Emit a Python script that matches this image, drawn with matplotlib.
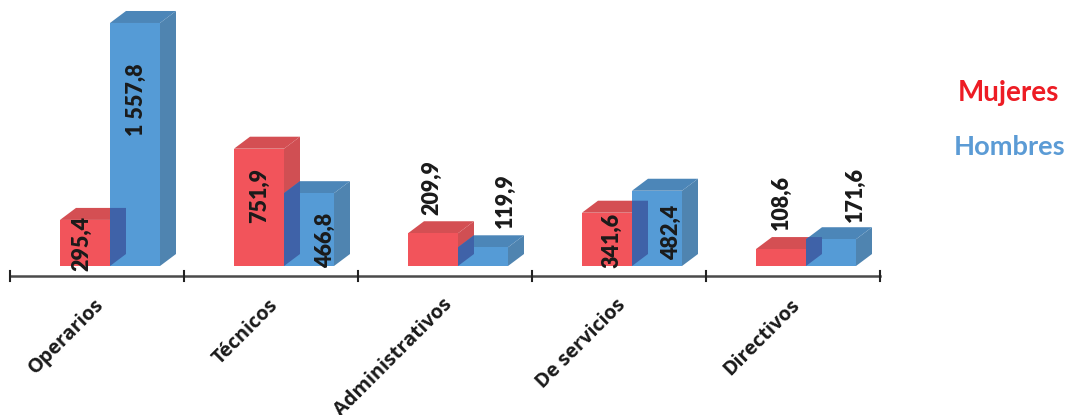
import matplotlib
matplotlib.use('Agg')
import matplotlib.pyplot as plt
from matplotlib.patches import Polygon

plt.rcParams['font.family'] = ['Lato', 'DejaVu Sans']

categories = ['Operarios', 'Técnicos', 'Administrativos', 'De servicios', 'Directivos']
mujeres = [295.4, 751.9, 209.9, 341.6, 108.6]
hombres = [1557.8, 466.8, 119.9, 482.4, 171.6]
mujeres_labels = ['295,4', '751,9', '209,9', '341,6', '108,6']
hombres_labels = ['1 557,8', '466,8', '119,9', '482,4', '171,6']

# Scale of the picture
PX_PER_UNIT = 0.156
PX_PER_CAT = 174
W, H = 1067, 415
BASE_PY = 266
LEFT_PX = 10

# Bar geometry in data units
BAR_W = 50 / PX_PER_CAT
BAR_OFF = 50 / PX_PER_CAT
DX = 16 / PX_PER_CAT
DY = 12 / PX_PER_UNIT
AXIS_Y = -10 / PX_PER_UNIT

RED = '#f2545b'
RED_TOP = '#d44f53'
RED_SIDE = '#d04f53'
BLUE = '#559bd6'
BLUE_TOP = '#4c86b8'
BLUE_SIDE = '#4f84b0'
OVERLAP = '#3f62a8'

# Label centres: x is pixels from the category's left tick, y is pixels from the top
mujeres_label_pos = [(72, 243), (76, 195), (74, 188), (80, 240), (75, 202)]
hombres_label_pos = [(126, 100), (141, 240), (147, 201), (139, 232), (149, 194)]


def outline(x, h):
    return [(x, 0), (x, h), (x + DX, h + DY), (x + BAR_W + DX, h + DY),
            (x + BAR_W + DX, DY), (x + BAR_W, 0)]


def draw_bar(ax, x, h, front, top, side, z):
    ax.add_patch(Polygon([(x, 0), (x, h), (x + BAR_W, h), (x + BAR_W, 0)],
                         color=front, lw=0, zorder=z + 0.2))
    ax.add_patch(Polygon([(x, h), (x + DX, h + DY), (x + BAR_W + DX, h + DY), (x + BAR_W, h)],
                         color=top, lw=0, zorder=z + 0.1))
    ax.add_patch(Polygon([(x + BAR_W, 0), (x + BAR_W, h), (x + BAR_W + DX, h + DY), (x + BAR_W + DX, DY)],
                         color=side, lw=0, zorder=z))


def draw_group(ax, i):
    x_red = i + 50 / PX_PER_CAT
    x_blue = x_red + BAR_OFF
    h_red = mujeres[i]
    h_blue = hombres[i]
    draw_bar(ax, x_red, h_red, RED, RED_TOP, RED_SIDE, 2)
    draw_bar(ax, x_blue, h_blue, BLUE, BLUE_TOP, BLUE_SIDE, 3)

    # part of the red bar seen through the blue one
    clip = Polygon(outline(x_blue, h_blue), transform=ax.transData, lw=0)
    over = Polygon(outline(x_red, h_red), color=OVERLAP, lw=0, zorder=4)
    ax.add_patch(over)
    over.set_clip_path(clip)


def main():
    fig = plt.figure(figsize=(W / 100, H / 100), dpi=100)
    ax = fig.add_axes([0, 0, 1, 1])
    ax.set_xlim(-LEFT_PX / PX_PER_CAT, (W - LEFT_PX) / PX_PER_CAT)
    ax.set_ylim((BASE_PY - H) / PX_PER_UNIT, BASE_PY / PX_PER_UNIT)
    ax.axis('off')

    for i in range(len(categories)):
        draw_group(ax, i)

    # x axis line with ticks
    ax.plot([0, len(categories)], [AXIS_Y, AXIS_Y], color='#4a4a4a', lw=1.8, zorder=1)
    for i in range(len(categories) + 1):
        ax.plot([i, i], [AXIS_Y - 5 / PX_PER_UNIT, AXIS_Y + 5 / PX_PER_UNIT], color='#222222', lw=1.5, zorder=1)

    for i, name in enumerate(categories):
        ax.annotate(name, xy=(i + 0.5, AXIS_Y), xytext=(-3, -19), textcoords='offset pixels',
                    rotation=45, rotation_mode='anchor', ha='right', va='top',
                    fontsize=14.3, fontweight='bold', color='#1a1a1a', family=['Open Sans', 'DejaVu Sans'])

    for labels, positions in [(mujeres_labels, mujeres_label_pos), (hombres_labels, hombres_label_pos)]:
        for i, text in enumerate(labels):
            px, py = positions[i]
            ax.text(i + px / PX_PER_CAT, (BASE_PY - py) / PX_PER_UNIT, text,
                    rotation=90, ha='center', va='center', fontsize=15.5, fontweight='heavy',
                    color='#1a1a1a', zorder=6)

    fig.text(1008 / W, 1 - 93 / H, 'Mujeres', color='#ed1c24', fontsize=20, fontweight='bold', ha='center', va='center')
    fig.text(1010 / W, 1 - 147 / H, 'Hombres', color='#5b9bd5', fontsize=19.6, fontweight='bold', ha='center', va='center')

    fig.savefig('out.png', dpi=100)


if __name__ == "__main__":
    main()
